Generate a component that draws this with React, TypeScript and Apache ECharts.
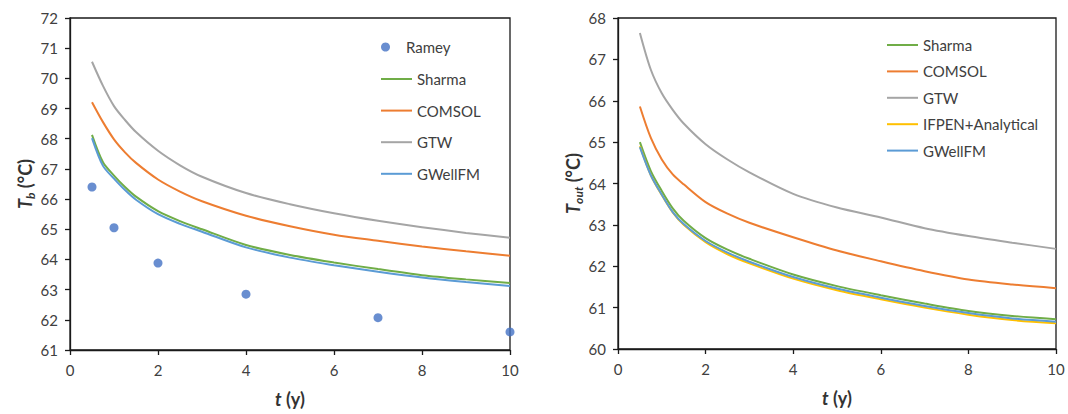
import React, { useEffect, useRef } from "react";
import * as echarts from "echarts";

// time (years)
const tYears = [0.5, 0.75, 1, 1.25, 1.5, 2, 2.5, 3, 4, 5, 6, 7, 8, 9, 10];

// Left panel: Tb (°C)
const rameyT = [0.5, 1, 2, 4, 7, 10];
const rameyTb = [66.4, 65.05, 63.88, 62.85, 62.07, 61.6];
const tbSharma = [68.13, 67.22, 66.78, 66.4, 66.08, 65.6, 65.27, 65.0, 64.48, 64.15, 63.9, 63.68, 63.48, 63.34, 63.22];
const tbComsol = [69.21, 68.55, 67.98, 67.55, 67.2, 66.65, 66.25, 65.93, 65.45, 65.1, 64.82, 64.62, 64.43, 64.27, 64.12];
const tbGtw = [70.55, 69.75, 69.08, 68.62, 68.22, 67.6, 67.12, 66.74, 66.2, 65.83, 65.53, 65.28, 65.07, 64.88, 64.72];
const tbGwellfm = [68.02, 67.1, 66.68, 66.3, 65.98, 65.5, 65.18, 64.92, 64.4, 64.06, 63.81, 63.59, 63.4, 63.25, 63.12];

// Right panel: Tout (°C)
const toutSharma = [65.0, 64.3, 63.82, 63.4, 63.1, 62.68, 62.4, 62.18, 61.8, 61.52, 61.3, 61.1, 60.92, 60.8, 60.72];
const toutComsol = [65.86, 65.1, 64.58, 64.22, 63.98, 63.55, 63.27, 63.05, 62.7, 62.38, 62.12, 61.88, 61.68, 61.56, 61.47];
const toutGtw = [67.64, 66.75, 66.18, 65.78, 65.45, 64.95, 64.58, 64.27, 63.75, 63.42, 63.18, 62.92, 62.73, 62.57, 62.42];
const toutIfpen = [64.9, 64.2, 63.72, 63.3, 63.0, 62.58, 62.29, 62.07, 61.7, 61.42, 61.2, 61.0, 60.83, 60.7, 60.62];
const toutGwellfm = [64.88, 64.2, 63.73, 63.31, 63.02, 62.61, 62.33, 62.11, 61.74, 61.46, 61.24, 61.04, 60.87, 60.74, 60.66];

const FONT = "Lato";
const C_RAMEY = "#4472C4";
const C_SHARMA = "#70AD47";
const C_COMSOL = "#ED7D31";
const C_GTW = "#A5A5A5";
const C_IFPEN = "#FFC000";
const C_GWELL = "#5B9BD5";
const AXIS = "#1a1a1a";
const LABEL = "#404040";
const NAME = "#333333";

const pairs = (xs: number[], ys: number[]) => xs.map((x, i) => [x, ys[i]]);

function lineSeries(name: string, color: string, ys: number[], idx: number) {
  return {
    type: "line",
    name,
    xAxisIndex: idx,
    yAxisIndex: idx,
    data: pairs(tYears, ys),
    symbol: "none",
    smooth: 0.3,
    lineStyle: { color, width: 2 },
    itemStyle: { color },
  };
}

function xAxisCfg(gridIndex: number) {
  return {
    type: "value",
    gridIndex,
    min: 0,
    max: 10,
    interval: 2,
    name: "{it|t} (y)",
    nameLocation: "middle",
    nameGap: 40,
    nameTextStyle: {
      fontFamily: FONT,
      fontSize: 18,
      fontWeight: "bold",
      color: NAME,
      rich: { it: { fontFamily: FONT, fontSize: 18, fontWeight: "bold", fontStyle: "italic", color: NAME } },
    },
    axisLine: { show: true, lineStyle: { color: AXIS, width: 1.3 } },
    axisTick: { show: true, inside: false, length: 5, lineStyle: { color: AXIS, width: 1.3 } },
    axisLabel: { fontFamily: FONT, fontSize: 15, color: LABEL, margin: 12 },
    splitLine: { show: false },
  };
}

function yAxisCfg(gridIndex: number, min: number, max: number, main: string, sub: string, gap: number) {
  return {
    type: "value",
    gridIndex,
    min,
    max,
    interval: 1,
    name: `{it|${main}}{sub|${sub}} (°C)`,
    nameLocation: "middle",
    nameGap: gap,
    nameRotate: 90,
    nameTextStyle: {
      fontFamily: FONT,
      fontSize: 18,
      fontWeight: "bold",
      color: NAME,
      lineHeight: 22,
      rich: {
        it: { fontFamily: FONT, fontSize: 18, fontWeight: "bold", fontStyle: "italic", color: NAME, lineHeight: 22 },
        sub: { fontFamily: FONT, fontSize: 12, fontWeight: "bold", fontStyle: "italic", color: NAME, lineHeight: 14, verticalAlign: "bottom" },
      },
    },
    axisLine: { show: true, lineStyle: { color: AXIS, width: 1.3 } },
    axisTick: { show: true, inside: false, length: 5, lineStyle: { color: AXIS, width: 1.3 } },
    axisLabel: { fontFamily: FONT, fontSize: 15, color: LABEL, margin: 12 },
    splitLine: { show: false },
  };
}

export default function App() {
  const ref = useRef<HTMLDivElement>(null);

  useEffect(() => {
    if (!ref.current) return;
    const chart = echarts.init(ref.current, null, { renderer: "svg" });
    const legendText = { fontFamily: FONT, fontSize: 15, color: LABEL, lineHeight: 18 };
    chart.setOption({
      animation: false,
      backgroundColor: "#ffffff",
      grid: [
        { left: 70, top: 18, width: 440, height: 332, show: true, borderColor: AXIS, borderWidth: 1.3, containLabel: false },
        { left: 618, top: 18, width: 438, height: 331, show: true, borderColor: AXIS, borderWidth: 1.3, containLabel: false },
      ],
      xAxis: [xAxisCfg(0), xAxisCfg(1)],
      yAxis: [yAxisCfg(0, 61, 72, "T", "b", 34), yAxisCfg(1, 60, 68, "T", "out", 34)],
      legend: [
        {
          orient: "vertical",
          left: 381,
          top: 38,
          padding: 0,
          itemWidth: 31,
          itemHeight: 9,
          itemGap: 13,
          data: ["Ramey"],
          textStyle: legendText,
          selectedMode: false,
        },
        {
          orient: "vertical",
          left: 381,
          top: 70,
          padding: 0,
          itemWidth: 31,
          itemHeight: 2,
          itemGap: 13.6,
          icon: "rect",
          data: ["Sharma", "COMSOL", "GTW", "GWellFM"],
          textStyle: legendText,
          selectedMode: false,
        },
        {
          orient: "vertical",
          left: 887,
          top: 36,
          padding: 0,
          itemWidth: 31,
          itemHeight: 2,
          itemGap: 8.4,
          icon: "rect",
          data: ["Sharma", "COMSOL", "GTW", "IFPEN+Analytical", "GWellFM"],
          textStyle: legendText,
          selectedMode: false,
        },
      ],
      series: [
        {
          type: "scatter",
          name: "Ramey",
          xAxisIndex: 0,
          yAxisIndex: 0,
          data: pairs(rameyT, rameyTb),
          symbol: "circle",
          symbolSize: 9,
          itemStyle: { color: C_RAMEY },
        },
        lineSeries("Sharma", C_SHARMA, tbSharma, 0),
        lineSeries("COMSOL", C_COMSOL, tbComsol, 0),
        lineSeries("GTW", C_GTW, tbGtw, 0),
        lineSeries("GWellFM", C_GWELL, tbGwellfm, 0),
        lineSeries("Sharma", C_SHARMA, toutSharma, 1),
        lineSeries("COMSOL", C_COMSOL, toutComsol, 1),
        lineSeries("GTW", C_GTW, toutGtw, 1),
        lineSeries("IFPEN+Analytical", C_IFPEN, toutIfpen, 1),
        lineSeries("GWellFM", C_GWELL, toutGwellfm, 1),
      ],
    });
    return () => chart.dispose();
  }, []);

  return (
    <div
      ref={ref}
      style={{ position: "absolute", left: 0, top: 0, width: 1068, height: 414, background: "#fff" }}
    />
  );
}
